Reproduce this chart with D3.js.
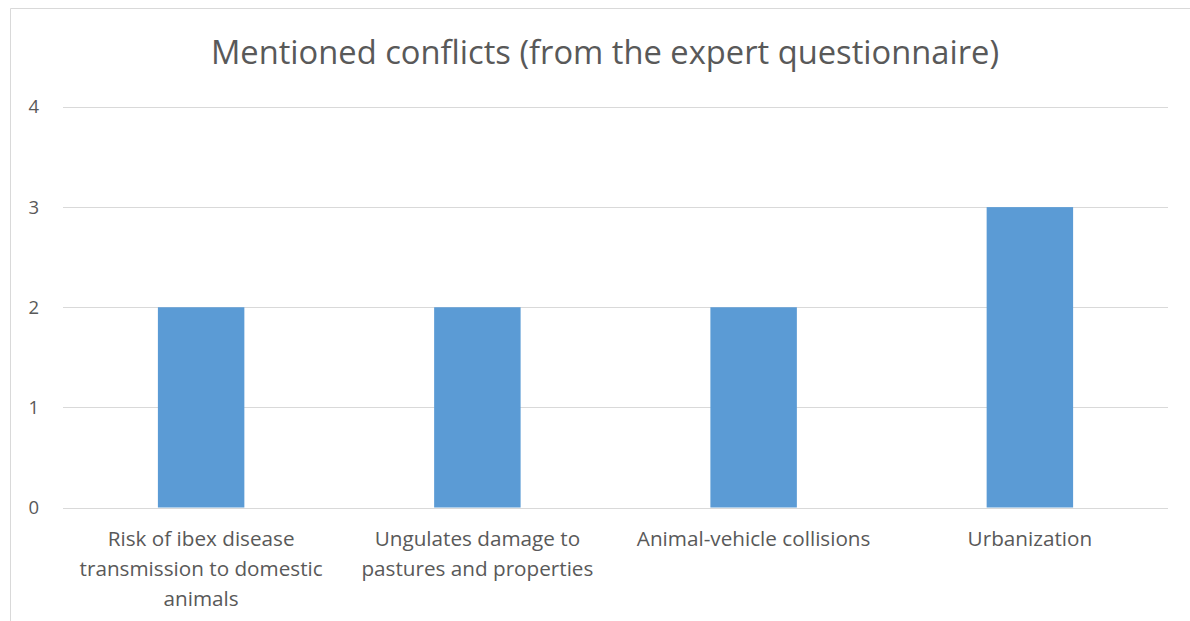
<!DOCTYPE html>
<html>
<head>
<meta charset="utf-8">
<script src="https://cdn.jsdelivr.net/npm/d3@7"></script>
<style>
  html, body { margin: 0; padding: 0; background: #fff; }
  svg { display: block; }
</style>
</head>
<body>
<svg id="chart" width="1190" height="621"></svg>
<script>
// Conflicts mentioned in the expert questionnaire
const categories = [
  ["Risk of ibex disease", "transmission to domestic", "animals"],
  ["Ungulates damage to", "pastures and properties"],
  ["Animal-vehicle collisions"],
  ["Urbanization"]
];
const counts = [2, 2, 2, 3];
const yTicks = [0, 1, 2, 3, 4];
const titleText = "Mentioned conflicts (from the expert questionnaire)";

const svg = d3.select("#chart");
const W = 1190, H = 621;
const margin = { left: 63, right: 22, top: 107, bottom: 113.5 };
const font = "'Open Sans', sans-serif";
const textColor = "#595959";

// chart frame (cropped at right and bottom)
svg.append("path")
  .attr("d", `M10.5,${H + 2} V8.5 H${W + 2}`)
  .attr("fill", "none")
  .attr("stroke", "#d9d9d9")
  .attr("stroke-width", 1);

const x = d3.scaleBand()
  .domain(d3.range(categories.length))
  .range([margin.left, W - margin.right])
  .paddingInner(0.687)
  .paddingOuter(0.3435);

const y = d3.scaleLinear()
  .domain([0, 4])
  .range([H - margin.bottom, margin.top]);

// gridlines
svg.append("g")
  .selectAll("line")
  .data(yTicks)
  .join("line")
  .attr("x1", margin.left)
  .attr("x2", W - margin.right)
  .attr("y1", d => Math.round(y(d)) + 0.5)
  .attr("y2", d => Math.round(y(d)) + 0.5)
  .attr("stroke", "#d9d9d9")
  .attr("stroke-width", 1.2);

// y axis labels
const yAxis = d3.axisLeft(y).tickValues(yTicks).tickFormat(d3.format("d")).tickSize(0).tickPadding(0);
const gy = svg.append("g")
  .attr("transform", `translate(39,0)`)
  .call(yAxis);
gy.select(".domain").remove();
gy.selectAll("text")
  .attr("fill", textColor)
  .style("font-family", font)
  .style("font-size", "18.5px");

// bars
svg.append("g")
  .selectAll("rect")
  .data(counts)
  .join("rect")
  .attr("x", (d, i) => x(i))
  .attr("width", x.bandwidth())
  .attr("y", d => y(d))
  .attr("height", d => y(0) - y(d))
  .attr("fill", "#5b9bd5");

// category labels
const gx = svg.append("g");
categories.forEach((lines, i) => {
  const t = gx.append("text")
    .attr("text-anchor", "middle")
    .attr("fill", textColor)
    .style("font-family", font)
    .style("font-size", "20.7px");
  lines.forEach((ln, j) => {
    t.append("tspan")
      .attr("x", x(i) + x.bandwidth() / 2)
      .attr("y", 546 + j * 30)
      .text(ln);
  });
});

// title
svg.append("text")
  .attr("x", 605)
  .attr("y", 64)
  .attr("text-anchor", "middle")
  .attr("fill", textColor)
  .style("font-family", font)
  .style("font-size", "32.7px")
  .style("font-weight", 400)
  .text(titleText);
</script>
</body>
</html>
